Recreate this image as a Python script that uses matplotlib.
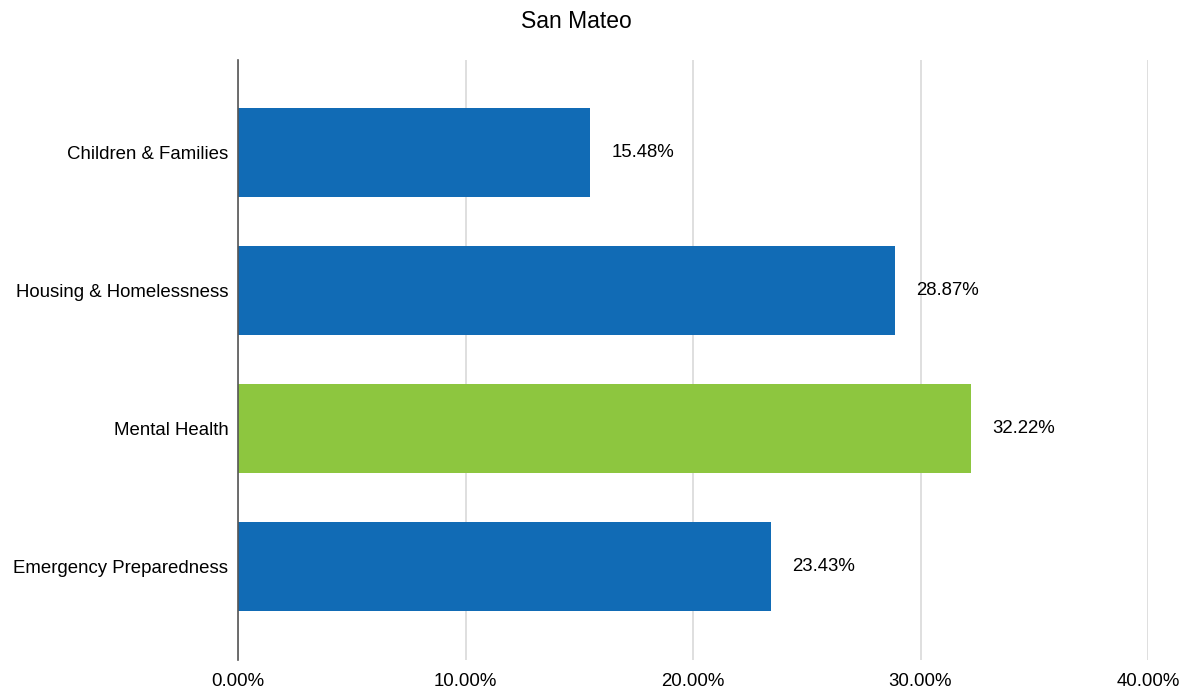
import matplotlib
matplotlib.use("Agg")
import matplotlib.pyplot as plt
from matplotlib.ticker import FuncFormatter

categories = ["Children & Families", "Housing & Homelessness", "Mental Health", "Emergency Preparedness"]
values = [15.48, 28.87, 32.22, 23.43]
colors = ["#116BB5", "#116BB5", "#8DC63F", "#116BB5"]
xticks = [0, 10, 20, 30, 40]
title = "San Mateo"

plt.rcParams['font.family'] = ['Liberation Sans', 'DejaVu Sans']

fig = plt.figure(figsize=(11.87, 6.91), dpi=100)
ax = fig.add_axes([238/1187, 1-660/691, (1148-238)/1187, 600/691])

y = list(range(len(categories)))
ax.barh(y, values, height=0.645, color=colors, zorder=3)
ax.set_ylim(3.68, -0.67)
ax.set_xlim(0, 40)
ax.set_xticks(xticks)
ax.xaxis.set_major_formatter(FuncFormatter(lambda v, p: f"{v:.2f}%"))
ax.set_yticks(y)
ax.set_yticklabels(categories)
ax.tick_params(axis='both', length=0, labelsize=13.4, colors='#000000')
ax.tick_params(axis='x', pad=9)
ax.tick_params(axis='y', pad=7)
ax.grid(axis='x', color='#d9d9d9', linewidth=1.2, zorder=0)
for s in ['top', 'right', 'bottom']:
    ax.spines[s].set_visible(False)
ax.spines['left'].set_color('#555555')
ax.spines['left'].set_linewidth(1.2)
ax.spines['left'].set_zorder(4)

for yi, v in zip(y, values):
    ax.annotate(f"{v:.2f}%", (v, yi), xytext=(21, 0), textcoords='offset pixels',
                va='center', ha='left', fontsize=13.4, color='#000000')

fig.text(576/1187, 1-22/691, title, ha='center', va='center', fontsize=16.5)

fig.savefig("out.png", dpi=100)
